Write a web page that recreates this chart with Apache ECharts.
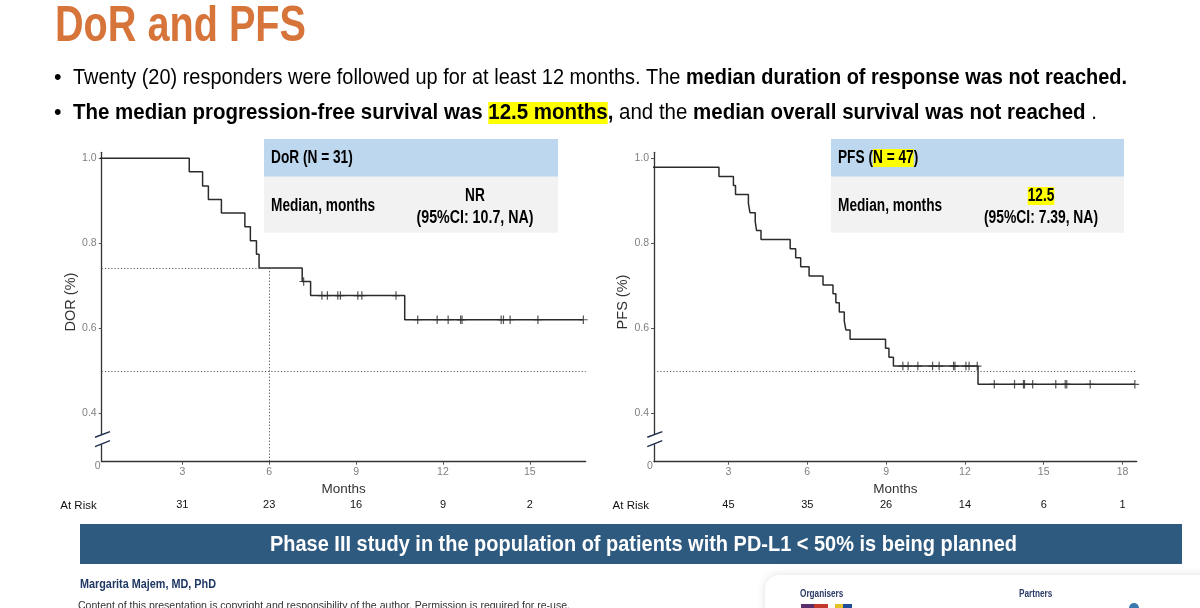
<!DOCTYPE html>
<html><head><meta charset="utf-8">
<script src="https://cdn.jsdelivr.net/npm/echarts@6/dist/echarts.min.js"></script>
<style>html,body{margin:0;padding:0;background:#fff}#c{width:1200px;height:608px}</style>
</head><body><div id="c"></div>
<script>
// ---------- data ----------
const dorTimes = [0, 3.24, 3.70, 3.90, 4.35, 5.16, 5.35, 5.56, 5.65, 7.14, 7.43, 10.68, 16.85];
const dorSurv  = [1.0, 0.968, 0.935, 0.903, 0.871, 0.839, 0.806, 0.774, 0.742, 0.710, 0.677, 0.620, 0.620];
const dorCensor = [7.19, 7.82, 8.01, 8.37, 8.46, 9.06, 9.20, 10.38, 11.13, 11.80, 12.18, 12.61, 12.66, 14.01, 14.09, 14.32, 15.28, 16.85];
const pfsTimes = [0, 2.64, 3.19, 3.27, 3.76, 3.82, 4.02, 4.07, 4.24, 5.35, 5.56, 5.75, 6.07, 6.60, 6.98, 7.09, 7.22, 7.41, 7.47, 7.63, 8.98, 9.11, 9.28, 12.50, 18.47];
const pfsSurv  = [0.979, 0.957, 0.936, 0.915, 0.894, 0.872, 0.851, 0.830, 0.809, 0.787, 0.766, 0.745, 0.723, 0.702, 0.681, 0.660, 0.638, 0.617, 0.596, 0.574, 0.553, 0.532, 0.511, 0.468, 0.468];
const pfsCensor = [9.64, 9.84, 10.21, 10.77, 11.02, 11.57, 11.62, 12.04, 12.16, 12.47, 13.12, 13.89, 14.23, 14.27, 14.58, 15.46, 15.82, 15.88, 16.77, 18.47];
const dorTicks = [3, 6, 9, 12, 15];
const dorAtRisk = [31, 23, 16, 9, 2];
const pfsTicks = [3, 6, 9, 12, 15, 18];
const pfsAtRisk = [45, 35, 26, 14, 6, 1];
const yTicks = [0.4, 0.6, 0.8, 1.0];
const medianRef = 0.5;
const dorLandmark = 6;
const breakValue = 0.3395;

// ---------- helpers ----------
const FONT = '"Liberation Sans", Arial, sans-serif';
const yMin = 0.286, yMax = 1.014;
const xMinL = 0.216, xMaxL = 16.93, xMinR = 0.167, xMaxR = 18.54;
function stepAt(times, surv, t) { let v = surv[0]; for (let i = 0; i < times.length; i++) if (times[i] <= t) v = surv[i]; return v; }
const ctx = document.createElement('canvas').getContext('2d');
function tw(text, size, bold) { ctx.font = (bold ? 'bold ' : '') + size + 'px ' + FONT; return ctx.measureText(text).width; }
function richLine(segs, size, x, y, o) {
  o = o || {};
  const rich = {}; let text = '', width = 0;
  segs.forEach((s, i) => {
    const k = 's' + i;
    const col = s.c || o.color || '#000';
    const st = { fontSize: size, fontFamily: FONT, fontWeight: s.b ? 'bold' : 'normal', fill: col, color: col, lineHeight: o.lh || Math.round(size * 1.15) };
    if (s.hl) st.backgroundColor = '#ffff00';
    rich[k] = st; text += '{' + k + '|' + s.t + '}'; width += tw(s.t, size, s.b);
  });
  const sc = o.target ? o.target / width : (o.scale || 0.82);
  const al = o.align || 'left';
  return { type: 'text', x: x, y: y, scaleX: sc, scaleY: 1, silent: true, z: 10,
    style: { text: text, rich: rich, fill: segs[0].c || o.color || '#000', align: al, textAlign: al, verticalAlign: 'middle', textVerticalAlign: 'middle' } };
}
function rect(x, y, w, h, fill, extra) { return Object.assign({ type: 'rect', silent: true, shape: { x: x, y: y, width: w, height: h }, style: { fill: fill } }, extra || {}); }

function xAxesFor(gi, mn, mx, ticks, risk) {
  return [
    { type: 'value', gridIndex: gi, min: mn, max: mx,
      axisLine: { show: true, onZero: false, lineStyle: { color: '#333', width: 1.3 } },
      axisTick: { show: true, customValues: ticks, length: 3, lineStyle: { color: '#555' } },
      axisLabel: { customValues: ticks, color: '#7f7f7f', fontSize: 10.5, margin: 5, fontFamily: FONT },
      splitLine: { show: false },
      name: 'Months', nameLocation: 'middle', nameGap: 19,
      nameTextStyle: { color: '#333', fontSize: 13.5, fontFamily: FONT } },
    { type: 'value', gridIndex: gi, min: mn, max: mx, position: 'bottom', offset: 38,
      axisLine: { show: false }, axisTick: { show: false }, splitLine: { show: false },
      axisLabel: { customValues: ticks, margin: 0, color: '#111', fontSize: 11, fontFamily: FONT,
        formatter: v => { const i = ticks.findIndex(t => Math.abs(t - v) < 1e-6); return i < 0 ? '' : String(risk[i]); } },
      name: 'At Risk', nameLocation: 'start', nameGap: 5,
      nameTextStyle: { color: '#111', fontSize: 11.5, fontFamily: FONT, align: 'right', verticalAlign: 'top' } }
  ];
}
function yAxisFor(gi, name) {
  return { type: 'value', gridIndex: gi, min: yMin, max: yMax,
    axisLine: { show: true, onZero: false, lineStyle: { color: '#333', width: 1.3 } },
    axisTick: { show: true, customValues: yTicks, length: 3, lineStyle: { color: '#555' } },
    axisLabel: { customValues: [yMin].concat(yTicks), color: '#7f7f7f', fontSize: 10.5, margin: 5, fontFamily: FONT,
      formatter: v => Math.abs(v - yMin) < 1e-6 ? '{z|0}' : v.toFixed(1),
      rich: { z: { width: 2, align: 'left', padding: [8, 0, 0, 0], color: '#7f7f7f', fontSize: 10.5, fontFamily: FONT } } },
    splitLine: { show: false },
    name: name, nameLocation: 'middle', nameGap: 22,
    nameTextStyle: { color: '#333', fontSize: 14.5, fontFamily: FONT, padding: [0, 0, 0, 10] } };
}
const dotted = { type: [1.2, 2], color: '#555', width: 1 };
function kmLine(xi, yi, times, surv, marks) {
  return { type: 'line', xAxisIndex: xi, yAxisIndex: yi, step: 'end', showSymbol: false, symbol: 'none', clip: true,
    data: times.map((t, i) => [t, surv[i]]), lineStyle: { color: '#2b2b2b', width: 1.5 }, silent: true, z: 3,
    markLine: { silent: true, symbol: ['none', 'none'], label: { show: false }, lineStyle: dotted, emphasis: { disabled: true }, data: marks } };
}
function censor(xi, yi, times, surv, cens) {
  return { type: 'scatter', xAxisIndex: xi, yAxisIndex: yi, silent: true, z: 4,
    symbol: 'path://M5,0L5,10M0,5L10,5', symbolSize: 8.5,
    itemStyle: { color: 'rgba(0,0,0,0)', borderColor: '#2b2b2b', borderWidth: 1.2 },
    data: cens.map(t => [t, stepAt(times, surv, t)]) };
}
function axisBreak(xi, yi, xv) {
  return { type: 'custom', xAxisIndex: xi, yAxisIndex: yi, clip: false, silent: true, z: 5,
    data: [[xv, breakValue]],
    renderItem: (params, api) => {
      const p = api.coord([api.value(0), api.value(1)]);
      return { type: 'group', children: [
        { type: 'rect', shape: { x: p[0] - 2.5, y: p[1] - 4.2, width: 5, height: 9.4 }, style: { fill: '#fff' } },
        { type: 'line', shape: { x1: p[0] - 6.7, y1: p[1] - 1.7, x2: p[0] + 8.3, y2: p[1] - 7.3 }, style: { stroke: '#1f3050', lineWidth: 1.5 } },
        { type: 'line', shape: { x1: p[0] - 6.7, y1: p[1] + 7.7, x2: p[0] + 8.3, y2: p[1] + 1.7 }, style: { stroke: '#1f3050', lineWidth: 1.5 } }
      ] };
    } };
}

const dorRefY = stepAt(dorTimes, dorSurv, dorLandmark);

// ---------- graphic (slide text & boxes) ----------
const NAVY = '#1f3864';
const TB = { scale: 0.76 };
const TBC = { scale: 0.76, align: 'center' };
const elements = [
  richLine([{ t: 'DoR and PFS', b: true, c: '#d6743a' }], 50, 55, 27, { target: 251 }),
  richLine([{ t: '•' }], 21.5, 54, 78, { scale: 1 }),
  richLine([{ t: 'Twenty (20) responders were followed up for at least 12 months. The ' }, { t: 'median duration of response was not reached.', b: true }], 21.5, 73, 78, { target: 1054 }),
  richLine([{ t: '•' }], 21.5, 54, 113, { scale: 1 }),
  richLine([{ t: 'The median progression-free survival was ', b: true }, { t: '12.5 months', b: true, hl: true }, { t: ',', b: true }, { t: ' and the ' }, { t: 'median overall survival was not reached', b: true }, { t: ' .' }], 21.5, 73, 113, { target: 1024, lh: 24 }),
  // DoR table
  rect(264, 139, 294, 37.7, '#bdd7ee'),
  rect(264, 176.7, 294, 56, '#f2f2f2'),
  richLine([{ t: 'DoR (N = 31)', b: true }], 18, 271, 158, TB),
  richLine([{ t: 'Median, months', b: true }], 18, 271, 206.5, TB),
  richLine([{ t: 'NR', b: true }], 18, 475, 196, TBC),
  richLine([{ t: '(95%CI: 10.7, NA)', b: true }], 18, 475, 218, { align: 'center', target: 117 }),
  // PFS table
  rect(831, 139, 293, 37.7, '#bdd7ee'),
  rect(831, 176.7, 293, 56, '#f2f2f2'),
  richLine([{ t: 'PFS (', b: true }, { t: 'N = 47', b: true, hl: true }, { t: ')', b: true }], 18, 838, 158, { scale: 0.76, lh: 20 }),
  richLine([{ t: 'Median, months', b: true }], 18, 838, 206.5, TB),
  richLine([{ t: '12.5', b: true, hl: true }], 18, 1041, 196, { scale: 0.76, align: 'center', lh: 21 }),
  richLine([{ t: '(95%CI: 7.39, NA)', b: true }], 18, 1041, 218, { align: 'center', target: 114 }),
  // banner
  rect(80, 524, 1102, 40, '#2e5a80'),
  richLine([{ t: 'Phase III study in the population of patients with PD-L1 < 50% is being planned', b: true, c: '#ffffff' }], 22, 643.5, 545, { target: 747, align: 'center' }),
  // footer
  richLine([{ t: 'Margarita Majem, MD, PhD', b: true, c: NAVY }], 12, 80, 585, { target: 136 }),
  richLine([{ t: 'Content of this presentation is copyright and responsibility of the author. Permission is required for re-use.', c: '#333333' }], 11.5, 78, 606, { target: 492 }),
  { type: 'rect', silent: true, shape: { x: 765, y: 575, width: 470, height: 60, r: 14 }, style: { fill: '#fff', shadowBlur: 8, shadowColor: 'rgba(0,0,0,0.13)' } },
  richLine([{ t: 'Organisers', b: true, c: '#2b3a67' }], 10, 800, 594),
  richLine([{ t: 'Partners', b: true, c: '#2b3a67' }], 10, 1019, 594),
  rect(801, 604, 13, 4, '#5a2e6b'), rect(814, 604, 14, 4, '#c0392b'),
  rect(835, 604, 8, 4, '#e6c229'), rect(843, 604, 9, 4, '#1f4e99'),
  { type: 'circle', silent: true, shape: { cx: 1134, cy: 608, r: 5 }, style: { fill: '#3a78b0' } }
];

// ---------- chart ----------
const chart = echarts.init(document.getElementById('c'), null, { renderer: 'canvas' });
chart.setOption({
  animation: false,
  backgroundColor: '#fff',
  textStyle: { fontFamily: FONT },
  grid: [
    { left: 101.7, top: 152.3, width: 484, height: 309.4 },
    { left: 654, top: 152.3, width: 482.7, height: 309.4 }
  ],
  xAxis: xAxesFor(0, xMinL, xMaxL, dorTicks, dorAtRisk).concat(xAxesFor(1, xMinR, xMaxR, pfsTicks, pfsAtRisk)),
  yAxis: [yAxisFor(0, 'DOR (%)'), yAxisFor(1, 'PFS (%)')],
  series: [
    kmLine(0, 0, dorTimes, dorSurv, [
      { yAxis: medianRef },
      [{ coord: [xMinL, dorRefY] }, { coord: [dorLandmark, dorRefY] }],
      [{ coord: [dorLandmark, dorRefY] }, { coord: [dorLandmark, yMin] }]
    ]),
    censor(0, 0, dorTimes, dorSurv, dorCensor),
    kmLine(2, 1, pfsTimes, pfsSurv, [{ yAxis: medianRef }]),
    censor(2, 1, pfsTimes, pfsSurv, pfsCensor),
    axisBreak(0, 0, xMinL),
    axisBreak(2, 1, xMinR)
  ],
  graphic: { elements: elements }
});
</script>
</body></html>
